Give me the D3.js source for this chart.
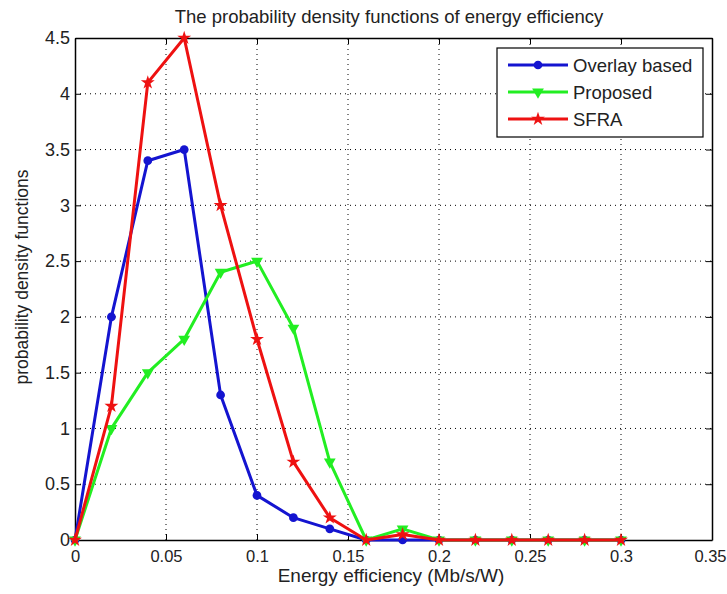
<!DOCTYPE html>
<html>
<head>
<meta charset="utf-8">
<script src="https://cdn.jsdelivr.net/npm/d3@7"></script>
<style>
  body { margin: 0; background: #fff; }
  svg { font-family: "Liberation Sans", Arial, sans-serif; }
</style>
</head>
<body>
<div id="chart"></div>
<script>
// data
var xValues = [0, 0.02, 0.04, 0.06, 0.08, 0.1, 0.12, 0.14, 0.16, 0.18, 0.2, 0.22, 0.24, 0.26, 0.28, 0.3];
var overlayBased = [0, 2.0, 3.4, 3.5, 1.3, 0.4, 0.2, 0.1, 0, 0, 0, 0, 0, 0, 0, 0];
var proposed = [0, 1.0, 1.5, 1.8, 2.4, 2.5, 1.9, 0.7, 0, 0.1, 0, 0, 0, 0, 0, 0];
var sfra = [0, 1.2, 4.1, 4.5, 3.0, 1.8, 0.7, 0.2, 0, 0.05, 0, 0, 0, 0, 0, 0];
var xTicks = [0, 0.05, 0.1, 0.15, 0.2, 0.25, 0.3, 0.35];
var yTicks = [0, 0.5, 1, 1.5, 2, 2.5, 3, 3.5, 4, 4.5];

var series = [
  {name: "Overlay based", values: overlayBased, color: "#1414d0", symbol: d3.symbolCircle},
  {name: "Proposed", values: proposed, color: "#22ee22", symbol: d3.symbolTriangle, flip: true},
  {name: "SFRA", values: sfra, color: "#ee1111", symbol: d3.symbolStar}
];

var width = 727, height = 594;
var margin = {left: 75, right: 15, top: 38, bottom: 54};

var x = d3.scaleLinear().domain([0, 0.35]).range([margin.left, width - margin.right]);
var y = d3.scaleLinear().domain([0, 4.5]).range([height - margin.bottom, margin.top]);

var svg = d3.select("#chart").append("svg")
  .attr("width", width)
  .attr("height", height);

// grid
svg.append("g")
  .selectAll("line")
  .data(xTicks.slice(1, -1))
  .enter().append("line")
    .attr("x1", function(d) { return x(d); })
    .attr("x2", function(d) { return x(d); })
    .attr("y1", y(0))
    .attr("y2", y(4.5))
    .attr("stroke", "#000")
    .attr("stroke-width", 1)
    .attr("stroke-dasharray", "1,4");

svg.append("g")
  .selectAll("line")
  .data(yTicks.slice(1, -1))
  .enter().append("line")
    .attr("x1", x(0))
    .attr("x2", x(0.35))
    .attr("y1", function(d) { return y(d); })
    .attr("y2", function(d) { return y(d); })
    .attr("stroke", "#000")
    .attr("stroke-width", 1)
    .attr("stroke-dasharray", "1,4");

// axes, ticks pointing inward like matlab
var xAxis = svg.append("g")
  .attr("transform", "translate(0," + y(0) + ")")
  .call(d3.axisBottom(x).tickValues(xTicks).tickFormat(d3.format("")).tickSizeInner(-6).tickSizeOuter(0).tickPadding(10));

svg.append("g")
  .attr("transform", "translate(0," + y(4.5) + ")")
  .call(d3.axisTop(x).tickValues(xTicks).tickFormat("").tickSizeInner(-6).tickSizeOuter(0));

var yAxis = svg.append("g")
  .attr("transform", "translate(" + x(0) + ",0)")
  .call(d3.axisLeft(y).tickValues(yTicks).tickFormat(d3.format("")).tickSizeInner(-6).tickSizeOuter(0).tickPadding(5));

svg.append("g")
  .attr("transform", "translate(" + x(0.35) + ",0)")
  .call(d3.axisRight(y).tickValues(yTicks).tickFormat("").tickSizeInner(-6).tickSizeOuter(0));

svg.selectAll(".domain").attr("stroke", "#000").attr("stroke-width", 1.5);
svg.selectAll(".tick line").attr("stroke", "#000");
yAxis.selectAll(".tick text").attr("font-size", 18).attr("fill", "#222");
xAxis.selectAll(".tick text").attr("font-size", 16.5).attr("fill", "#222");
// last label sits right at the window edge, keep it inside
xAxis.selectAll(".tick text").filter(function(d) { return d === 0.35; })
  .attr("text-anchor", "end")
  .attr("x", width - 1 - x(0.35));

// lines
var line = d3.line()
  .x(function(d, i) { return x(xValues[i]); })
  .y(function(d) { return y(d); });

series.forEach(function(s) {
  svg.append("path")
    .datum(s.values)
    .attr("fill", "none")
    .attr("stroke", s.color)
    .attr("stroke-width", 3)
    .attr("stroke-linejoin", "round")
    .attr("d", line);

  svg.append("g")
    .selectAll("path")
    .data(s.values)
    .enter().append("path")
      .attr("d", d3.symbol().type(s.symbol).size(60))
      .attr("transform", function(d, i) {
        return "translate(" + x(xValues[i]) + "," + y(d) + ")" + (s.flip ? " rotate(180)" : "");
      })
      .attr("fill", s.color);
});

// legend
var legend = svg.append("g").attr("transform", "translate(497,48)");
legend.append("rect")
  .attr("width", 206)
  .attr("height", 89)
  .attr("fill", "#fff")
  .attr("stroke", "#000")
  .attr("stroke-width", 1.2);

series.forEach(function(s, i) {
  var ly = 17 + i * 27;
  legend.append("line")
    .attr("x1", 11).attr("x2", 71)
    .attr("y1", ly).attr("y2", ly)
    .attr("stroke", s.color)
    .attr("stroke-width", 3);
  legend.append("path")
    .attr("d", d3.symbol().type(s.symbol).size(60))
    .attr("transform", "translate(41," + ly + ")" + (s.flip ? " rotate(180)" : ""))
    .attr("fill", s.color);
  legend.append("text")
    .attr("x", 76)
    .attr("y", ly + 7)
    .attr("font-size", 18.5)
    .attr("fill", "#222")
    .text(s.name);
});

// titles
svg.append("text")
  .attr("x", 389)
  .attr("y", 23)
  .attr("text-anchor", "middle")
  .attr("font-size", 18.5)
  .attr("fill", "#222")
  .text("The probability density functions of energy efficiency");

svg.append("text")
  .attr("x", 391)
  .attr("y", 582)
  .attr("text-anchor", "middle")
  .attr("font-size", 19)
  .attr("fill", "#222")
  .text("Energy efficiency (Mb/s/W)");

svg.append("text")
  .attr("transform", "translate(28,277) rotate(-90)")
  .attr("text-anchor", "middle")
  .attr("font-size", 17.5)
  .attr("fill", "#222")
  .text("probability density functions");
</script>
</body>
</html>
